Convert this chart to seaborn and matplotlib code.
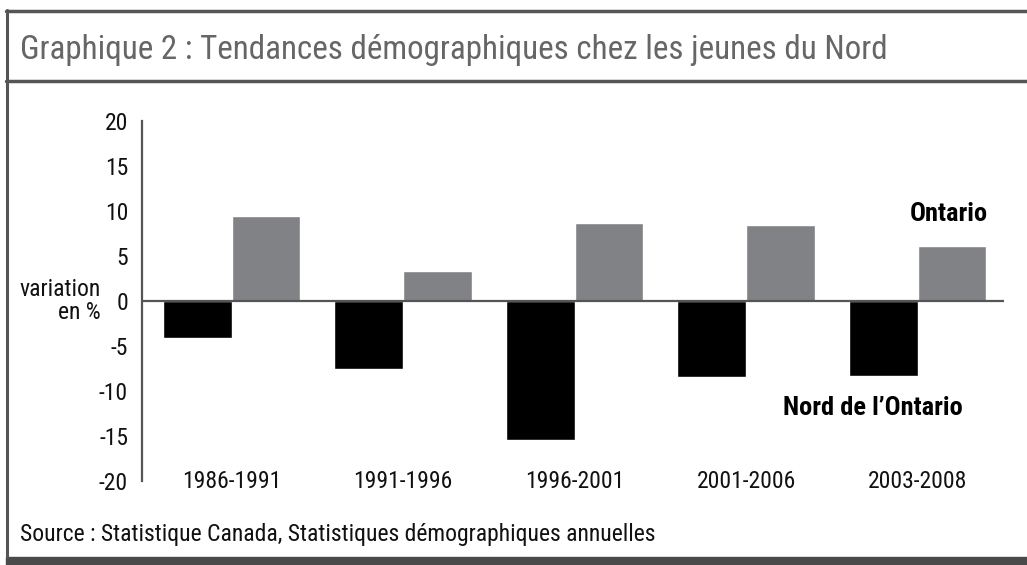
import matplotlib
matplotlib.use("Agg")
import matplotlib.pyplot as plt
import seaborn as sns
import pandas as pd
from matplotlib.lines import Line2D
from matplotlib.patches import Rectangle

periods = ["1986-1991", "1991-1996", "1996-2001", "2001-2006", "2003-2008"]
nord = [-4.1, -7.6, -15.4, -8.4, -8.3]
ontario = [9.4, 3.3, 8.7, 8.4, 6.1]
yticks = [-20, -15, -10, -5, 0, 5, 10, 15, 20]
series_names = ["Nord de l\u2019Ontario", "Ontario"]

df = pd.DataFrame({
    "period": periods * 2,
    "value": nord + ontario,
    "series": [series_names[0]] * len(periods) + [series_names[1]] * len(periods),
})

sns.set_theme(style="white")
FONT = ["Roboto Condensed", "DejaVu Sans"]
plt.rcParams["font.family"] = FONT

fig = plt.figure(figsize=(10.27, 5.65), dpi=100)
ax = fig.add_axes([142 / 1027, 1 - 481 / 565, (1004 - 142) / 1027, (481 - 121) / 565])

sns.barplot(data=df, x="period", y="value", hue="series", order=periods,
            hue_order=series_names, palette=["#000000", "#808285"],
            width=0.8, saturation=1, ax=ax, legend=False)

ax.set_xlim(-0.522, 4.504)
ax.set_ylim(-20, 20)
ax.set_yticks(yticks)
ax.set_yticklabels([str(t) for t in yticks])
ax.set_xlabel("")
ax.set_ylabel("")
ax.axhline(0, color="#555555", lw=1.6, zorder=3)
for s in ["top", "right", "bottom"]:
    ax.spines[s].set_visible(False)
ax.spines["left"].set_color("#555555")
ax.spines["left"].set_linewidth(1.6)
ax.tick_params(axis="both", length=0, labelsize=17, colors="#111111")
ax.tick_params(axis="y", pad=10)
ax.tick_params(axis="x", pad=-8)
for lab in ax.get_xticklabels() + ax.get_yticklabels():
    lab.set_family(FONT)

# y label
ax.text(-0.048, 0.0, "variation\nen %", transform=ax.get_yaxis_transform(),
        ha="right", va="center", fontsize=17, color="#111111", linespacing=0.95,
        multialignment="right")

# series annotations
fig.text(988 / 1027, 1 - 214 / 565, "Ontario",
         ha="right", va="center", fontsize=19, fontweight="bold", color="#000000")
fig.text(963 / 1027, 1 - 408 / 565, "Nord de l\u2019Ontario",
         ha="right", va="center", fontsize=19, fontweight="bold", color="#000000")

# Title, source and frame
fig.text(20 / 1027, 1 - 50 / 565, "Graphique 2 : Tendances d\u00e9mographiques chez les jeunes du Nord",
         ha="left", va="center", fontsize=23.8, color="#666666")
fig.text(20 / 1027, 1 - 534 / 565, "Source : Statistique Canada, Statistiques d\u00e9mographiques annuelles",
         ha="left", va="center", fontsize=17, color="#111111")

fc = "#555555"
fig.add_artist(Line2D([6 / 1027, 1], [1 - 11 / 565, 1 - 11 / 565], color=fc, lw=2.5,
                      transform=fig.transFigure))
fig.add_artist(Line2D([6 / 1027, 1], [1 - 81.5 / 565, 1 - 81.5 / 565], color=fc, lw=2.5,
                      transform=fig.transFigure))
fig.add_artist(Line2D([7 / 1027, 7 / 1027], [1 - 10 / 565, 1 - 557 / 565], color=fc, lw=2.2,
                      transform=fig.transFigure))
fig.add_artist(Rectangle((6 / 1027, 0), 1, 8.5 / 565, color="#4a4a4a",
                         transform=fig.transFigure))

fig.savefig("out.png", dpi=100)
